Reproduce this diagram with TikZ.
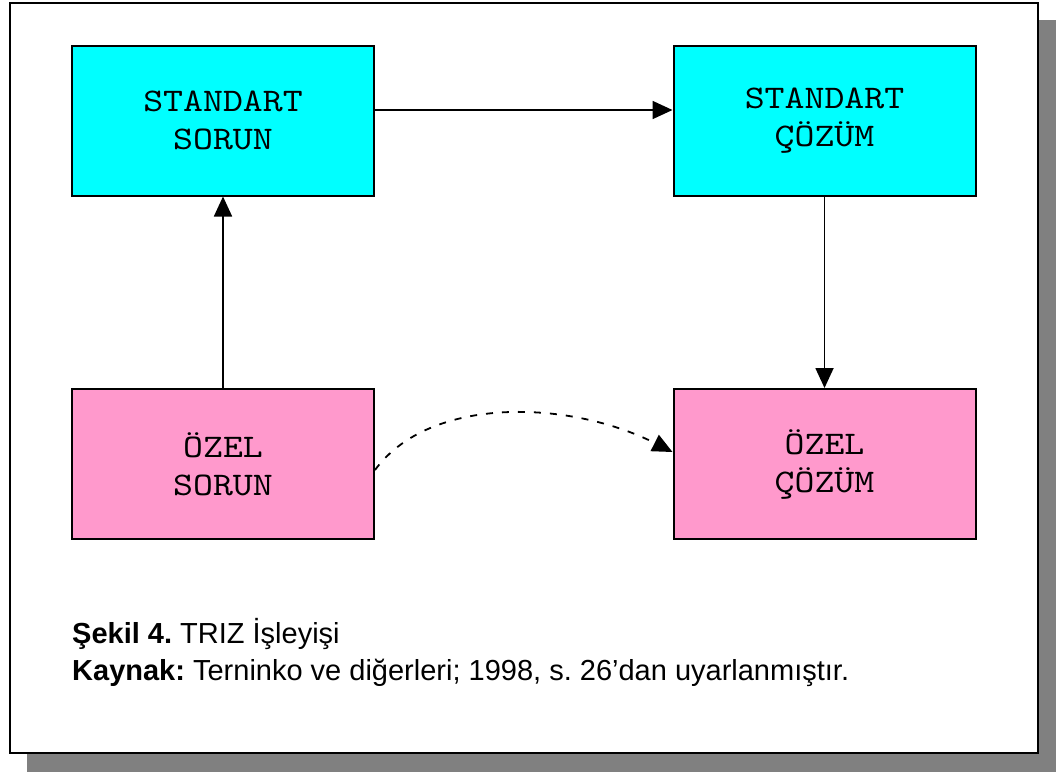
\documentclass[tikz,border=0pt]{standalone}
\usepackage{fontspec}
\setmainfont{Liberation Sans}
\newfontfamily\boxfont{lmmono10-regular.otf}[FakeStretch=1.15]
\usetikzlibrary{arrows.meta}
\definecolor{boxcyan}{HTML}{00FFFF}
\definecolor{boxpink}{HTML}{FF99CC}
\definecolor{shadowgray}{HTML}{808080}
\frenchspacing
\begin{document}
\begin{tikzpicture}[x=1pt,y=-1pt,
  stepbox/.style={draw=black,line width=2pt,minimum width=302pt,minimum height=150pt,
    inner sep=0pt,align=center,font=\boxfont\fontsize{33}{38}\selectfont},
  conn/.style={line width=1.8pt,-{Triangle[length=20pt,width=18pt]}},
  caption/.style={anchor=base west,inner sep=0pt,font=\fontsize{29}{35}\selectfont}]
\useasboundingbox (0,0) rectangle (1056,772);
% shadow and frame
\fill[shadowgray] (27,20) rectangle (1056,772);
\draw[fill=white,line width=2pt] (10,3) rectangle (1038,753);
% boxes
\node[stepbox,fill=boxcyan] (ss) at (223,120.5) {STANDART\\SORUN};
\node[stepbox,fill=boxcyan] (sc) at (824.5,120.5) {STANDART\\ÇÖZÜM};
\node[stepbox,fill=boxpink] (os) at (223,464) {ÖZEL\\SORUN};
\node[stepbox,fill=boxpink] (oc) at (824.5,464) {ÖZEL\\ÇÖZÜM};
% connectors
\draw[conn] (ss.east |- 0,110) -- (sc.west |- 0,110);
\draw[conn] (os.north) -- (ss.south);
\draw[conn] (sc.south) -- (oc.north);
\draw[line width=1.8pt,dash pattern=on 7pt off 9pt,-{Triangle[length=20pt,width=18pt]}]
  (os.east |- 0,470) .. controls (430,395) and (570,400) .. (oc.west |- 0,452);
% captions
\node[caption] (cap1) at (72,643) {\textbf{Şekil 4.} TRIZ İşleyişi};
\node[caption] (cap2) at (72,680) {\textbf{Kaynak:} Terninko ve diğerleri; 1998, s. 26’dan uyarlanmıştır.};
\end{tikzpicture}
\end{document}
